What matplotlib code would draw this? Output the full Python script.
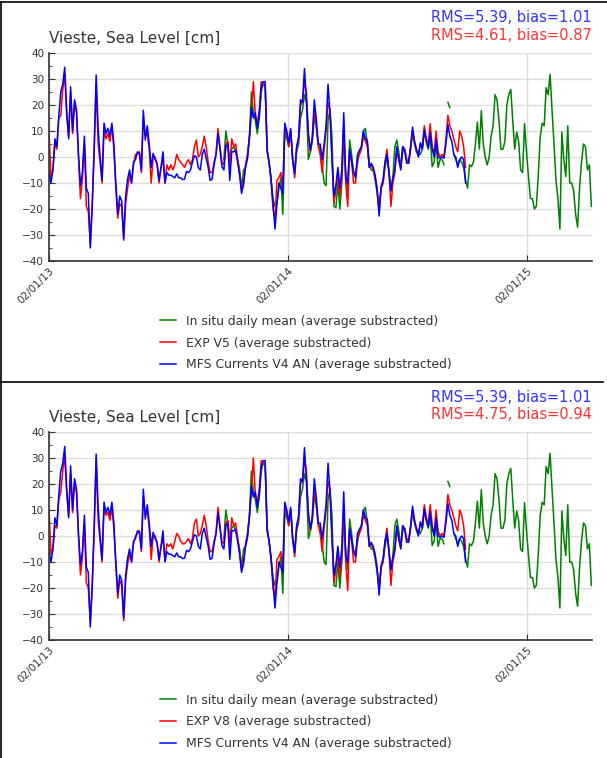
import datetime as dt
import numpy as np
import matplotlib
matplotlib.use("Agg")
import matplotlib.pyplot as plt
import matplotlib.dates as mdates
from matplotlib.ticker import MultipleLocator
from matplotlib.lines import Line2D

nan = np.nan

# sampling: every 3 days from 02/01/2013
start = dt.datetime(2013, 1, 2)
step_days = 3

# MFS Currents V4 AN (same in both panels), samples k = 0..212
mfs_v4 = [
    -6, -10, -5, 7, 4, 16, 25, 28, 34.5, 18, 7, 27, 10, 22, 18, 1, -11, -6, 8, -12,
    -14, -35, -19, 4, 31.5, 11, 0, -9, 13, 9, 11, 8, 13, 5, -10, -22, -15, -17, -31.5, -15,
    -8.5, -5, -10, -2, -1, 2, 1.5, -5, 18, 6.5, 12, 5, -4, 1.4, -1, -2.4, -9, -4, 2, -10,
    -6, -7, -7, -7.5, -8, -6.5, -8, -8, -8.7, -8.5, -5.5, -6, -5, -2, 0.5, 0, -4, -5, 1, 3,
    -0.5, -4, -9, -8.5, -3, 1, 9, 3, -3.7, -5, 4, 5, -9, 2, 2, 2.6, -2, -7, -14, -10,
    -4, -0.5, 7, 19, 15, 17, 11, 16, 27, 29, 29, 2, -2, -8, -18, -27.7, -18, -10, -12, -14,
    13, 10, 5.5, 11, -1, -6.5, 4, 7.5, 22, 21, 34, 22, 9, 2.6, 7, 22, 15, 5, 5, -1,
    5, 12, 28, 17, -1, -15, -11, -4, -12, -5, 17, -8, -10, 3, -1.5, -6, -8, 1, 2.6, 4,
    10, 7, 6.5, -4, -2.4, -4, -7, -13, -22.7, -11.5, -8.7, -2, 1, -6, -13, -8, -5, 4, -1, -5,
    4, 2.6, -2.4, -2.4, 4, 11.5, 6, 2.6, 0, 5.5, 3, 10.5, 6, 3.5, 9.5, 3, 0, 7, 0, -0.5,
    0, -0.5, 5, 12.5, 8, 6, 1, 0, -4, -1, 0, -1, -10,
]

# EXP V5, samples k = 0..212
exp_v5 = [
    10, -8, -5, 5, 3, 15, 16, 26, 32, 16, 8, 25, 9, 20, 17, 0, -16, -8, 5, -19,
    -21, -33, -18, 2, 28, 5, -2, -10, 10, 7, 9, 6, 12, 3, -12, -23.5, -18, -19, -32, -18,
    -12, -7, -10, -3, 1, 1, 2, -6, 15, 8, 9, 3, -10, 0, 0, -3, -10, -4, -1, -10,
    -3, -5, -3, -5, -3, 1, -1, -2, -3, -4, -2, -1, -3, -1, 4, 6.5, 0, 1, 4, 8,
    4, -2, -6, -6, -2, 1, 11, 4, -2, -3, 5, 6, -4, 7, 4, 5, -1, -6, -13, -11,
    -3, 1, 8, 17, 29, 16, 13, 18, 29, 28, 27, 3, -2, -9, -20, -24, -9, -8, -6, -12,
    12, 9, 4, 10, -1, -8, 3, 7, 20, 21, 29, 25, 8, 2, 8, 18, 12, 4, 1, -6,
    3, 10, 21, 18, 0, -17.6, -13, -6, -15, -8, 12, -10, -19, 2, -2, -10, -10, -1, 1, 3,
    8, 6, 4, -4, -3, -5, -8, -12, -20, -12, -10, -2, 3, -6, -19, -10, -6, 3, -1, -4,
    4, 3, -1, -2, 3, 10, 6, 3, 1, 5, 4, 12, 7, 5, 12.8, 4, 1, 10, 2, 0,
    1, 0, 7, 16, 12, 10, 7, 4, 2, 10, 8, 4, -4,
]

# EXP V8, samples k = 0..212
exp_v8 = [
    10, -7, -5, 4, 3, 14, 17, 25, 31, 17, 8, 24, 9, 20, 17, 0, -15, -8, 5, -18,
    -20, -33, -19, 2, 29, 6, -2, -10, 10, 8, 9, 6, 11, 3, -11, -24, -17, -19, -32.5, -17,
    -11, -7, -10, -3, 0, 1, 2, -6, 15, 8, 10, 3, -9, 0, 0, -3, -10, -4, -1, -9,
    -3, -4, -3, -5, -2, 1, 0, -2, -3, -3, -2, -1, -3, -1, 5, 6.5, 0, 1, 4, 8,
    4, -2, -6, -6, -2, 1, 11, 4, -2, -3, 5, 6, -4, 7, 4, 5, -1, -6, -13, -11,
    -3, 1, 8, 17, 30, 16, 13, 18, 29, 28, 27, 3, -2, -9, -20, -24, -9, -8, -6, -12,
    12, 9, 4, 10, -1, -8, 3, 7, 20, 21, 29, 25, 8, 2, 8, 18, 12, 4, 1, -6,
    3, 10, 21, 18, 0, -18, -13, -6, -16, -8, 11, -10, -21, 2, -2, -10, -10, -1, 1, 3,
    8, 6, 4, -4, -3, -5, -8, -12, -21, -12, -10, -2, 3, -6, -19, -10, -6, 3, -1, -4,
    4, 3, -1, -2, 3, 10, 6, 3, 1, 5, 4, 12, 7, 5, 12, 4, 1, 10, 2, 0,
    1, 0, 7, 16, 12, 10, 7, 4, 2, 10, 8, 4, -5,
]

# In situ daily mean, samples k = 89..276
insitu_first = 89
insitu = [
    -1, 10, 5, -1, 3, 4, 2, -1, -5, -12, -5, -4, 0, 8, 25, 17, 14, 9, 15, 25,
    28, 28, 3, -2, -9, -16, -19, -18, -12, -8, -22, 10, 7, 4, 10, -1, -6, 2, 5, 15,
    18, 24, 21, -1, 2, 6, 15, 12, 5, 3, -3, -10, -11, 14, 18, 8, -19, -19.5, -10, -20,
    -10, 8, -6, -13, 6.5, 1, -6, -6, -2.4, 2, 4, 10, 11, 5, -3, -5, -5, -9, -14, -20,
    -12, -10, -4, 0, -5, -13, -8, 4, 6.5, 2, -4, 2, 3, -1, -2, 3, 9, 5, 2, 1,
    1, 3, 10, 6, 3, 8, -3.7, -2, 5, -4, -1, -1, -3, nan, 21, 19, nan, 1, -1, -3,
    -1, -2, -4, -9, -12, -3, -3.7, -2, 5, 13.4, 3, 17.8, 5, 0, -3, 0, 8, 12, 24, 22,
    14, 3, 3, 6, 20, 24, 26, 14, 3, 9.6, 6, -5, -6, 12.8, 2, -7.5, -16, -16, -20, -19,
    -7, 8, 13, 12, 26.7, 24, 31.8, 18, 5, -9, -16, -27.7, 9.6, -1, -7.5, 12, -10, -10, -13, -22,
    -27, -12, -2, 5, 4, -5, -3, -19,
]

panels = [
    ("EXP V5", exp_v5, "RMS=4.61, bias=0.87"),
    ("EXP V8", exp_v8, "RMS=4.75, bias=0.94"),
]
mfs_stats = "RMS=5.39, bias=1.01"

model_dates = [start + dt.timedelta(days=step_days * k) for k in range(len(mfs_v4))]
insitu_dates = [start + dt.timedelta(days=step_days * (insitu_first + k)) for k in range(len(insitu))]

W, H = 607, 758
fig = plt.figure(figsize=(W / 100, H / 100), dpi=100)

def fx(px):
    return px / W

def fy(py):
    return 1 - py / H

# panel borders
fig.add_artist(Line2D([fx(1), fx(607)], [fy(2), fy(2)], color="black", lw=1.2))
fig.add_artist(Line2D([fx(1.5), fx(1.5)], [fy(2), fy(758)], color="black", lw=1.2))
fig.add_artist(Line2D([fx(1), fx(603)], [fy(382), fy(382)], color="black", lw=1.2))

text_col = "#333333"
xmin = start
xmax = start + dt.timedelta(days=829)

for i, (name, exp, exp_stats) in enumerate(panels):
    top = 53 + 379 * i
    ax = fig.add_axes([fx(49), fy(top + 208), fx(543), 208 / H])

    ax.plot(insitu_dates, insitu, color="green", lw=1.1,
            label="In situ daily mean (average substracted)")
    ax.plot(model_dates, exp, color="red", lw=1.1,
            label=name + " (average substracted)")
    ax.plot(model_dates, mfs_v4, color="blue", lw=1.1,
            label="MFS Currents V4 AN (average substracted)")

    ax.set_xlim(xmin, xmax)
    ax.set_ylim(-40, 40)
    ax.yaxis.set_major_locator(MultipleLocator(10))
    ax.yaxis.set_minor_locator(MultipleLocator(5))
    ax.set_xticks([dt.datetime(2013, 1, 2), dt.datetime(2014, 1, 2), dt.datetime(2015, 1, 2)])
    ax.xaxis.set_major_formatter(mdates.DateFormatter("%d/%m/%y"))
    ax.grid(True, which="major", color="#dddddd", lw=1)
    ax.set_axisbelow(True)
    for s in ("top", "right"):
        ax.spines[s].set_visible(False)
    for s in ("left", "bottom"):
        ax.spines[s].set_color("#333333")
        ax.spines[s].set_linewidth(1.2)
    ax.tick_params(which="major", direction="in", length=4, labelsize=7.5,
                   colors="#333333", labelcolor=text_col)
    ax.tick_params(which="minor", direction="in", length=2, colors="#333333")
    for lab in ax.get_xticklabels():
        lab.set_rotation(45)
        lab.set_ha("right")
        lab.set_va("top")
        lab.set_rotation_mode("anchor")

    fig.text(fx(49), fy(top - 10), "Vieste, Sea Level [cm]", fontsize=11,
             color=text_col, ha="left", va="baseline")
    fig.text(fx(592), fy(top - 35), mfs_stats, fontsize=10.5, color="#3333ff",
             ha="right", va="center")
    fig.text(fx(592), fy(top - 18), exp_stats, fontsize=10.5, color="#ff3333",
             ha="right", va="center")

    ax.legend(loc="center", bbox_to_anchor=(fx(306), fy(top + 290)),
              bbox_transform=fig.transFigure, frameon=False, fontsize=8.9,
              handlelength=1.3, handletextpad=0.8, labelspacing=0.72,
              labelcolor=text_col)

fig.savefig("out.png", dpi=100)
